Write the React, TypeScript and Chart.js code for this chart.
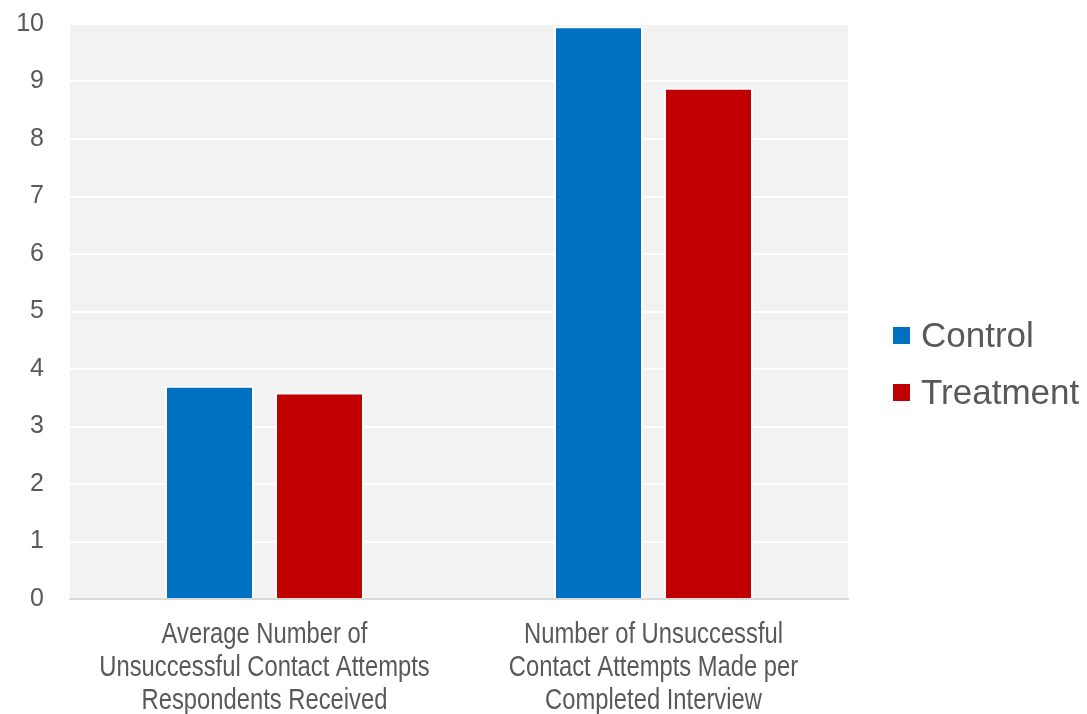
import React, { useEffect, useRef } from "react";
import { Chart, registerables } from "chart.js";

Chart.register(...registerables);

const categories: string[][] = [
  ["Average Number of", "Unsuccessful Contact Attempts", "Respondents Received"],
  ["Number of Unsuccessful", "Contact Attempts Made per", "Completed Interview"],
];
const seriesNames = ["Control", "Treatment"];
const controlValues = [3.71, 9.96];
const treatmentValues = [3.59, 8.89];
const seriesColors = ["#0070C0", "#C00000"];
const yTicks = [0, 1, 2, 3, 4, 5, 6, 7, 8, 9, 10];

const TEXT = "#595959";
const SANS = "'Liberation Sans', 'Roboto', sans-serif";

const bgPlugin = {
  id: "plotBg",
  beforeDraw(chart: any) {
    const { ctx, chartArea } = chart;
    ctx.save();
    ctx.fillStyle = "#f2f2f2";
    ctx.fillRect(chartArea.left, chartArea.top, chartArea.right - chartArea.left, chartArea.bottom - chartArea.top);
    ctx.restore();
  },
};

const xLabelPlugin = {
  id: "xLabels",
  afterDraw(chart: any) {
    const { ctx, scales } = chart;
    const xs = scales.x;
    ctx.save();
    ctx.fillStyle = TEXT;
    ctx.font = `29px ${SANS}`;
    ctx.textAlign = "center";
    ctx.textBaseline = "middle";
    (chart.data.labels as string[][]).forEach((lines, i) => {
      const cx = xs.getPixelForValue(i);
      lines.forEach((line, j) => {
        const cy = xs.top + 36 + j * 33;
        ctx.save();
        ctx.translate(cx, cy);
        ctx.scale(0.82, 1);
        ctx.fillText(line, 0, 0);
        ctx.restore();
      });
    });
    ctx.restore();
  },
};

const legendPlugin = {
  id: "customLegend",
  afterDraw(chart: any) {
    const { ctx } = chart;
    ctx.save();
    chart.data.datasets.forEach((ds: any, i: number) => {
      const y = 327 + i * 57;
      ctx.fillStyle = ds.backgroundColor;
      ctx.fillRect(893, y, 17, 17);
      ctx.fillStyle = TEXT;
      ctx.font = `35px ${SANS}`;
      ctx.textBaseline = "alphabetic";
      ctx.textAlign = "left";
      ctx.fillText(ds.label, 921, y + 20);
    });
    ctx.restore();
  },
};

export default function App() {
  const ref = useRef<HTMLCanvasElement | null>(null);
  useEffect(() => {
    if (!ref.current) return;
    const chart = new Chart(ref.current, {
      type: "bar",
      data: {
        labels: categories,
        datasets: [
          { label: seriesNames[0], data: controlValues, backgroundColor: seriesColors[0], borderColor: "#ffffff", borderWidth: 2 },
          { label: seriesNames[1], data: treatmentValues, backgroundColor: seriesColors[1], borderColor: "#ffffff", borderWidth: 2 },
        ],
      },
      options: {
        animation: false,
        responsive: true,
        maintainAspectRatio: false,
        datasets: { bar: { categoryPercentage: 0.5656, barPercentage: 0.809 } } as any,
        layout: { padding: { top: 24, right: 239, bottom: 0, left: 0 } },
        plugins: { legend: { display: false }, tooltip: { enabled: false } },
        scales: {
          x: {
            grid: { display: false, drawTicks: false },
            border: { display: true, color: "#d9d9d9", width: 2 },
            ticks: { display: false },
            afterFit(scale: any) {
              scale.height = 115;
              scale.paddingLeft = 0;
              scale.paddingRight = 0;
            },
          },
          y: {
            min: 0,
            max: 10,
            afterBuildTicks(scale: any) {
              scale.ticks = yTicks.map((v) => ({ value: v }));
            },
            grid: { color: "#ffffff", lineWidth: 2, drawTicks: false },
            border: { display: false },
            ticks: {
              color: TEXT,
              font: { family: SANS, size: 25 },
              padding: 26,
            },
            afterFit(scale: any) {
              scale.width = 70;
              scale.paddingTop = 0;
              scale.paddingBottom = 0;
            },
          },
        },
      },
      plugins: [bgPlugin, xLabelPlugin, legendPlugin],
    });
    return () => chart.destroy();
  }, []);
  return (
    <div style={{ position: "absolute", left: 0, top: 0, width: 1087, height: 714 }}>
      <canvas ref={ref} />
    </div>
  );
}
